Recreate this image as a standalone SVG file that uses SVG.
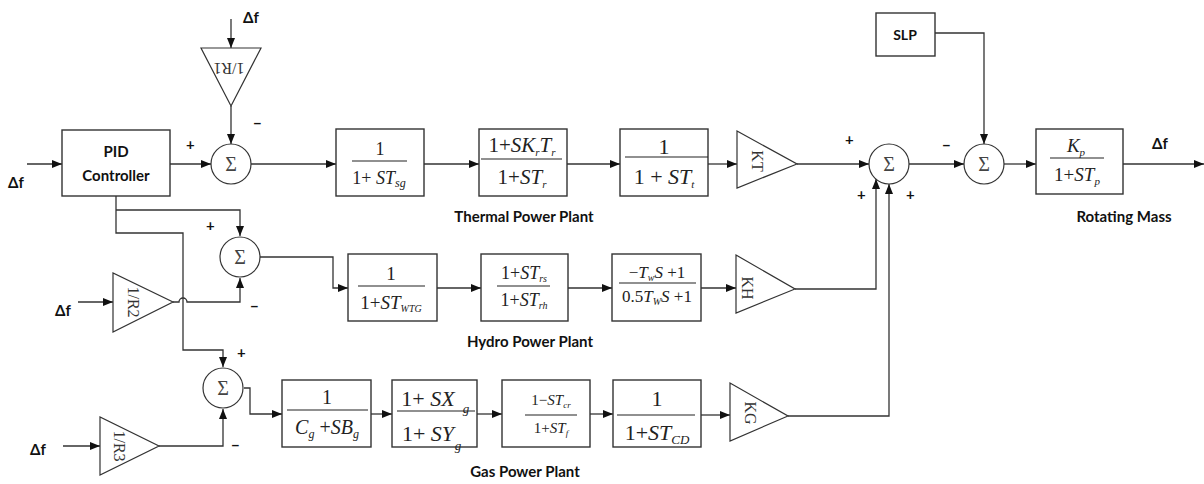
<svg xmlns="http://www.w3.org/2000/svg" width="1204" height="484" viewBox="0 0 1204 484">
<style>
.bx{fill:#fff;stroke:#333;stroke-width:1.4}
.tri{fill:#fff;stroke:#333;stroke-width:1.2}
.sm{fill:#fff;stroke:#333;stroke-width:1.2}
.ln{fill:none;stroke:#333;stroke-width:1.3}
.fr{stroke:#222;stroke-width:1.2}
.lb{font-family:Lato,"Liberation Sans",sans-serif;font-weight:bold;fill:#111}
.m{font-family:"Liberation Serif",serif;fill:#222;text-anchor:middle}
.i{font-style:italic}
.sg{font-family:"Liberation Serif",serif;fill:#444;font-size:20px;text-anchor:middle}
.tt{font-family:"Liberation Serif",serif;fill:#333;font-size:16px;text-anchor:middle}
</style>
<defs>
<marker id="a" markerWidth="10" markerHeight="8" refX="10" refY="4" orient="auto" markerUnits="userSpaceOnUse"><path d="M0,0 L10,4 L0,8 z" fill="#111"/></marker>
</defs>
<rect width="1204" height="484" fill="#fff"/>

<g id="connectors">
<path class="ln" d="M27,164 H62" marker-end="url(#a)"/>
<path class="ln" d="M170,164 H211" marker-end="url(#a)"/>
<path class="ln" d="M231,19 V48" marker-end="url(#a)"/>
<path class="ln" d="M231,106 V144" marker-end="url(#a)"/>
<path class="ln" d="M251,164 H336" marker-end="url(#a)"/>
<path class="ln" d="M424,164 H479" marker-end="url(#a)"/>
<path class="ln" d="M567,164 H620" marker-end="url(#a)"/>
<path class="ln" d="M708,164 H737" marker-end="url(#a)"/>
<path class="ln" d="M797,164 H869" marker-end="url(#a)"/>
<path class="ln" d="M909,164 H964" marker-end="url(#a)"/>
<path class="ln" d="M935,33 H984 V144" marker-end="url(#a)"/>
<path class="ln" d="M1004,164 H1036" marker-end="url(#a)"/>
<path class="ln" d="M1123,164 H1204" marker-end="url(#a)"/>
<path class="ln" d="M116,196 V233 H183 V350 H223 V367" marker-end="url(#a)"/>
<path class="ln" d="M116,210 H240 V236" marker-end="url(#a)"/>
<path class="ln" d="M78,302 H113" marker-end="url(#a)"/>
<path class="ln" d="M173,302 H179 A4,4 0 0 1 187,302 H240 V278" marker-end="url(#a)"/>
<path class="ln" d="M260,257 H333 V288 H348" marker-end="url(#a)"/>
<path class="ln" d="M437,288 H481" marker-end="url(#a)"/>
<path class="ln" d="M568,288 H612" marker-end="url(#a)"/>
<path class="ln" d="M701,288 H736" marker-end="url(#a)"/>
<path class="ln" d="M795,289 H876 V179" marker-end="url(#a)"/>
<path class="ln" d="M63,446 H100" marker-end="url(#a)"/>
<path class="ln" d="M159,446 H223 V409" marker-end="url(#a)"/>
<path class="ln" d="M244,388 H250 V414 H282" marker-end="url(#a)"/>
<path class="ln" d="M371,414 H392" marker-end="url(#a)"/>
<path class="ln" d="M477,414 H502" marker-end="url(#a)"/>
<path class="ln" d="M590,414 H613" marker-end="url(#a)"/>
<path class="ln" d="M701,415 H730" marker-end="url(#a)"/>
<path class="ln" d="M788,416 H889 V184" marker-end="url(#a)"/>
</g>

<g id="pid">
<rect class="bx" x="62" y="130" width="108" height="66"/>
<text class="lb" x="116" y="157" font-size="15" text-anchor="middle">PID</text>
<text class="lb" x="116" y="181" font-size="15" text-anchor="middle">Controller</text>
</g>

<g id="r1">
<path class="tri" d="M201,48 H261 L231,106 z"/>
<text class="tt" font-size="17" transform="translate(229,63) rotate(180)">1/R1</text>
</g>

<g id="sum1"><circle class="sm" cx="231" cy="164" r="20"/><text class="sg" x="231" y="171">Σ</text></g>

<g id="b1">
<rect class="bx" x="336" y="129" width="88" height="67"/>
<text class="m" x="380" y="155" font-size="18">1</text>
<line class="fr" x1="352" y1="161" x2="407" y2="161"/>
<text class="m" x="379" y="184" font-size="18">1+ <tspan class="i">ST</tspan><tspan class="i" font-size="12" dy="3">sg</tspan></text>
</g>

<g id="b2">
<rect class="bx" x="479" y="129" width="88" height="67"/>
<text class="m" x="522" y="152" font-size="21">1+<tspan class="i">SK</tspan><tspan class="i" font-size="11" dy="4">r</tspan><tspan class="i" dy="-4">T</tspan><tspan class="i" font-size="11" dy="4">r</tspan></text>
<line class="fr" x1="481" y1="159" x2="562" y2="159"/>
<text class="m" x="522" y="184" font-size="21">1+<tspan class="i">ST</tspan><tspan class="i" font-size="11" dy="4">r</tspan></text>
</g>

<g id="b3">
<rect class="bx" x="620" y="129" width="88" height="67"/>
<text class="m" x="664" y="154" font-size="22">1</text>
<line class="fr" x1="625" y1="157" x2="708" y2="157"/>
<text class="m" x="664" y="184" font-size="22">1 + <tspan class="i">ST</tspan><tspan class="i" font-size="11" dy="4">t</tspan></text>
</g>

<g id="kt">
<path class="tri" d="M737,131 V188 L797,164 z"/>
<text class="tt" transform="translate(752,161) rotate(90)">KT</text>
</g>

<g id="sum2"><circle class="sm" cx="889" cy="164" r="20"/><text class="sg" x="889" y="171">Σ</text></g>

<g id="slp">
<rect class="bx" x="876" y="13" width="59" height="43"/>
<text class="lb" x="905" y="40" font-size="14" text-anchor="middle">SLP</text>
</g>

<g id="sum3"><circle class="sm" cx="984" cy="164" r="20"/><text class="sg" x="984" y="171">Σ</text></g>

<g id="rm">
<rect class="bx" x="1036" y="129" width="87" height="65"/>
<text class="m" x="1076" y="152" font-size="19"><tspan class="i">K</tspan><tspan class="i" font-size="11" dy="4">p</tspan></text>
<line class="fr" x1="1050" y1="158" x2="1104" y2="158"/>
<text class="m" x="1077" y="181" font-size="19">1+<tspan class="i">ST</tspan><tspan class="i" font-size="11" dy="4">p</tspan></text>
</g>

<g id="sumh"><circle class="sm" cx="240" cy="257" r="20"/><text class="sg" x="240" y="264">Σ</text></g>

<g id="r2">
<path class="tri" d="M113,273 V332 L173,302 z"/>
<text class="tt" transform="translate(128,302) rotate(90)">1/R2</text>
</g>

<g id="h1">
<rect class="bx" x="348" y="254" width="89" height="67"/>
<text class="m" x="391" y="280" font-size="19">1</text>
<line class="fr" x1="358" y1="286" x2="425" y2="286"/>
<text class="m" x="391" y="309" font-size="19">1+<tspan class="i">ST</tspan><tspan class="i" font-size="10" dy="3">WTG</tspan></text>
</g>

<g id="h2">
<rect class="bx" x="481" y="254" width="87" height="67"/>
<text class="m" x="524" y="279" font-size="18">1+<tspan class="i">ST</tspan><tspan class="i" font-size="10" dy="3">rs</tspan></text>
<line class="fr" x1="497" y1="286" x2="550" y2="286"/>
<text class="m" x="524" y="306" font-size="18">1+<tspan class="i">ST</tspan><tspan class="i" font-size="10" dy="3">rh</tspan></text>
</g>

<g id="h3">
<rect class="bx" x="612" y="254" width="89" height="67"/>
<text class="m" x="657" y="278" font-size="17">−<tspan class="i">T</tspan><tspan class="i" font-size="10" dy="3">w</tspan><tspan class="i" dy="-3">S</tspan> +1</text>
<line class="fr" x1="619" y1="283" x2="696" y2="283"/>
<text class="m" x="657" y="302" font-size="17">0.5<tspan class="i">T</tspan><tspan class="i" font-size="10" dy="3">W</tspan><tspan class="i" dy="-3">S</tspan> +1</text>
</g>

<g id="kh">
<path class="tri" d="M736,255 V313 L795,289 z"/>
<text class="tt" transform="translate(742,288) rotate(90)">KH</text>
</g>

<g id="sumg"><circle class="sm" cx="223" cy="388" r="20"/><text class="sg" x="223" y="395">Σ</text></g>

<g id="r3">
<path class="tri" d="M100,417 V475 L159,446 z"/>
<text class="tt" transform="translate(114,446) rotate(90)">1/R3</text>
</g>

<g id="g1">
<rect class="bx" x="282" y="380" width="89" height="67"/>
<text class="m" x="327" y="404" font-size="20">1</text>
<line class="fr" x1="287" y1="410" x2="368" y2="410"/>
<text class="m" x="327" y="434" font-size="20"><tspan class="i">C</tspan><tspan class="i" font-size="12" dy="4">g</tspan><tspan dy="-4"> +</tspan><tspan class="i">SB</tspan><tspan class="i" font-size="12" dy="4">g</tspan></text>
</g>

<g id="g2">
<rect class="bx" x="392" y="380" width="85" height="67"/>
<text class="m" x="428" y="406" font-size="22">1+ <tspan class="i">SX</tspan></text>
<text class="m i" x="466" y="413" font-size="13">g</text>
<line class="fr" x1="397" y1="411" x2="475" y2="411"/>
<text class="m" x="428" y="441" font-size="22">1+ <tspan class="i">SY</tspan></text>
<text class="m i" x="458" y="450" font-size="13">g</text>
</g>

<g id="g3">
<rect class="bx" x="502" y="380" width="88" height="67"/>
<text class="m" x="551" y="405" font-size="15">1−<tspan class="i">ST</tspan><tspan class="i" font-size="9" dy="3">cr</tspan></text>
<line class="fr" x1="525" y1="415" x2="577" y2="415"/>
<text class="m" x="551" y="433" font-size="15">1+<tspan class="i">ST</tspan><tspan class="i" font-size="9" dy="3">f</tspan></text>
</g>

<g id="g4">
<rect class="bx" x="613" y="380" width="88" height="67"/>
<text class="m" x="657" y="406" font-size="22">1</text>
<line class="fr" x1="617" y1="415" x2="695" y2="415"/>
<text class="m" x="657" y="440" font-size="22">1+<tspan class="i">ST</tspan><tspan class="i" font-size="13" dy="4">CD</tspan></text>
</g>

<g id="kg">
<path class="tri" d="M730,383 V441 L788,416 z"/>
<text class="tt" transform="translate(745,413) rotate(90)">KG</text>
</g>

<g id="labels" class="lb">
<text x="8" y="188" font-size="15">Δf</text>
<text x="243" y="23" font-size="15">Δf</text>
<text x="55" y="316" font-size="15">Δf</text>
<text x="30" y="455" font-size="15">Δf</text>
<text x="1152" y="149" font-size="15">Δf</text>
<text x="186" y="150" font-size="15">+</text>
<text x="253" y="129" font-size="15">−</text>
<text x="206" y="231" font-size="15">+</text>
<text x="250" y="312" font-size="15">−</text>
<text x="237" y="358" font-size="15">+</text>
<text x="231" y="451" font-size="15">−</text>
<text x="845" y="145" font-size="15">+</text>
<text x="857" y="200" font-size="15">+</text>
<text x="906" y="200" font-size="15">+</text>
<text x="942" y="151" font-size="15">−</text>
<text x="524" y="222" font-size="15" text-anchor="middle">Thermal Power Plant</text>
<text x="530" y="347" font-size="15" text-anchor="middle">Hydro Power Plant</text>
<text x="525" y="477" font-size="15" text-anchor="middle">Gas Power Plant</text>
<text x="1124" y="222" font-size="15" text-anchor="middle">Rotating Mass</text>
</g>
</svg>
